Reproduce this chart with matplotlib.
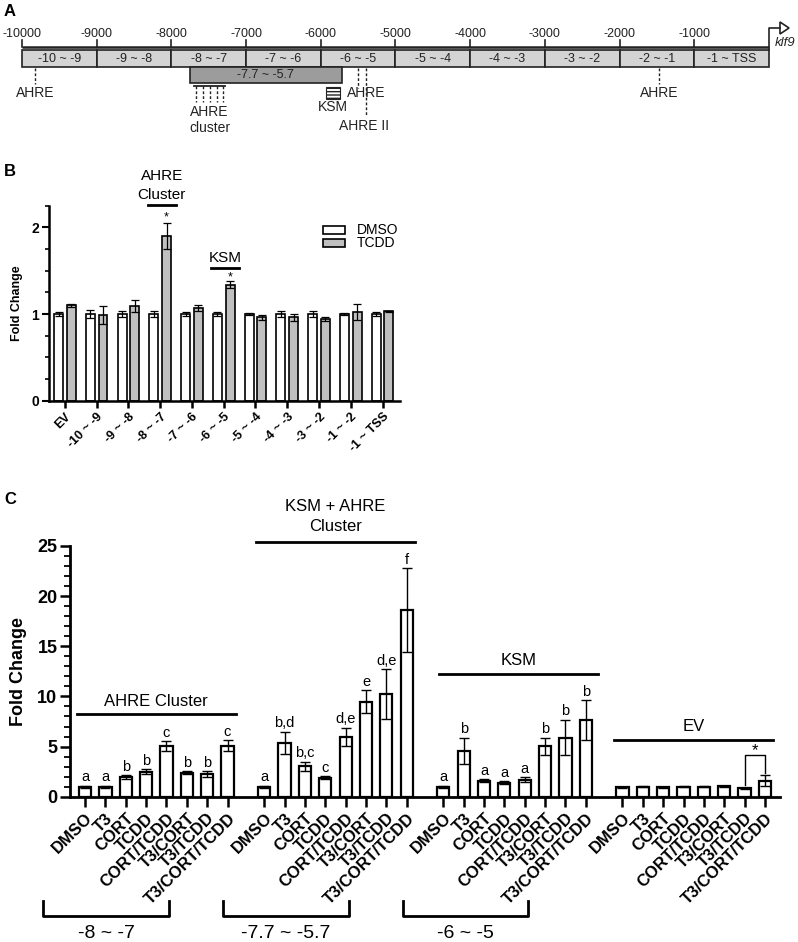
import numpy as np
import matplotlib
matplotlib.use('Agg')
import matplotlib.pyplot as plt
from matplotlib.patches import Rectangle, Polygon

plt.rcParams['font.family'] = ['Liberation Sans', 'DejaVu Sans']

W, H = 798, 942

# ---------------- data ----------------
# Panel A
a_ticks = [-10000, -9000, -8000, -7000, -6000, -5000, -4000, -3000, -2000, -1000]
a_segments = ['-10 ~ -9', '-9 ~ -8', '-8 ~ -7', '-7 ~ -6', '-6 ~ -5',
              '-5 ~ -4', '-4 ~ -3', '-3 ~ -2', '-2 ~ -1', '-1 ~ TSS']
a_big_segment = '-7.7 ~ -5.7'
a_ahre_sites = [-9826, -5502, -1473]
a_cluster_sites = [-7670, -7577, -7483, -7390, -7309]
a_ahre2_site = -5395

# Panel B
b_categories = ['EV', '-10 ~ -9', '-9 ~ -8', '-8 ~ -7', '-7 ~ -6', '-6 ~ -5',
                '-5 ~ -4', '-4 ~ -3', '-3 ~ -2', '-1 ~ -2', '-1 ~ TSS']
b_dmso = [1.0, 1.0, 1.0, 1.0, 1.0, 1.0, 1.0, 1.0, 1.0, 1.0, 1.0]
b_dmso_err = [0.02, 0.05, 0.03, 0.04, 0.02, 0.02, 0.01, 0.03, 0.03, 0.01, 0.02]
b_tcdd = [1.10, 0.99, 1.09, 1.90, 1.07, 1.34, 0.96, 0.96, 0.94, 1.02, 1.03]
b_tcdd_err = [0.02, 0.10, 0.07, 0.15, 0.03, 0.04, 0.03, 0.04, 0.02, 0.09, 0.01]

# Panel C
c_treatments = ['DMSO', 'T3', 'CORT', 'TCDD', 'CORT/TCDD', 'T3/CORT',
                'T3/TCDD', 'T3/CORT/TCDD']
c_groups = ['AHRE Cluster', 'KSM + AHRE\nCluster', 'KSM', 'EV']
c_ahre = [1.0, 1.0, 1.93, 2.49, 5.04, 2.39, 2.26, 5.10]
c_ahre_err = [0.10, 0.10, 0.20, 0.25, 0.50, 0.15, 0.30, 0.55]
c_ahre_letters = ['a', 'a', 'b', 'b', 'c', 'b', 'b', 'c']
c_ksmahre = [1.0, 5.40, 3.05, 1.90, 5.97, 9.45, 10.20, 18.60]
c_ksmahre_err = [0.10, 1.10, 0.45, 0.15, 0.90, 1.15, 2.50, 4.20]
c_ksmahre_letters = ['a', 'b,d', 'b,c', 'c', 'd,e', 'e', 'd,e', 'f']
c_ksm = [1.0, 4.58, 1.60, 1.40, 1.70, 5.05, 5.90, 7.63]
c_ksm_err = [0.10, 1.30, 0.15, 0.15, 0.25, 0.85, 1.75, 2.00]
c_ksm_letters = ['a', 'b', 'a', 'a', 'a', 'b', 'b', 'b']
c_ev = [0.95, 1.00, 0.95, 1.00, 0.98, 1.05, 0.85, 1.60]
c_ev_err = [0.05, 0.05, 0.05, 0.05, 0.05, 0.05, 0.05, 0.55]
c_ev_letters = ['', '', '', '', '', '', '', '']
c_regions = ['-8 ~ -7', '-7.7 ~ -5.7', '-6 ~ -5']

fig = plt.figure(figsize=(W / 100, H / 100), dpi=100)

# overlay axes in pixel coordinates for panel letters / brackets
ov = fig.add_axes([0, 0, 1, 1], zorder=10)
ov.set_xlim(0, W)
ov.set_ylim(H, 0)
ov.axis('off')
ov.patch.set_alpha(0)

for lab, (px, py) in zip(['A', 'B', 'C'], [(10, 11), (10, 172), (10, 500)]):
    ov.text(px, py, lab, fontsize=12, fontweight='bold', ha='center', va='center')

# ---------------- Panel A ----------------
px_per_bp = (769 - 22) / 10000.0
axA = fig.add_axes([0, 1 - 140 / H, 1, 140 / H])
axA.set_xlim(-10000 - 22 / px_per_bp, (W - 769) / px_per_bp)
axA.set_ylim(140, 0)
axA.axis('off')

axA.plot([-10000, 0], [47, 47], color='#222222', lw=1.8, solid_capstyle='butt')
for t in a_ticks:
    axA.plot([t, t], [40, 47], color='#222222', lw=1.2)
    axA.text(t, 34, str(t), fontsize=9, ha='center', va='center', color='#222222')

for i, lab in enumerate(a_segments):
    x0 = -10000 + i * 1000
    axA.add_patch(Rectangle((x0, 50), 1000, 17, facecolor='#d4d4d4',
                            edgecolor='#222222', lw=1.2))
    axA.text(x0 + 500, 58.5, lab, fontsize=9, ha='center', va='center', color='#222222')

axA.add_patch(Rectangle((-7750, 67), 2030, 16, facecolor='#9c9c9c',
                        edgecolor='#222222', lw=1.2))
axA.text((-7750 - 5720) / 2, 75, a_big_segment, fontsize=9, ha='center', va='center',
         color='#222222')

# AHRE single sites
for s in [a_ahre_sites[0], a_ahre_sites[2]]:
    axA.plot([s, s], [68, 84], color='#222222', lw=1, ls=(0, (2, 1.5)))
    axA.text(s, 93, 'AHRE', fontsize=10, ha='center', va='center', color='#222222')
axA.plot([a_ahre_sites[1]] * 2, [68, 88], color='#222222', lw=1, ls=(0, (2, 1.5)))
axA.text(-5390, 93, 'AHRE', fontsize=10, ha='center', va='center', color='#222222')
axA.plot([a_ahre2_site] * 2, [68, 116], color='#222222', lw=1, ls=(0, (2, 1.5)))
axA.text(a_ahre2_site - 30, 126, 'AHRE II', fontsize=10, ha='center', va='center',
         color='#222222')

# AHRE cluster
axA.plot([-7697, -7282], [86, 86], color='#222222', lw=1.3)
for s in a_cluster_sites:
    axA.plot([s, s], [86, 102], color='#222222', lw=1, ls=(0, (2, 1.5)))
axA.text(-7490, 112, 'AHRE', fontsize=10, ha='center', va='center', color='#222222')
axA.text(-7490, 128, 'cluster', fontsize=10, ha='center', va='center', color='#222222')

# KSM
axA.add_patch(Rectangle((-5930, 87), 187, 12, facecolor='white',
                        edgecolor='#222222', lw=0.8, hatch='-----'))
axA.text(-5836, 107, 'KSM', fontsize=10, ha='center', va='center', color='#222222')

# TSS arrow
axA.plot([0, 0, 150], [50, 28, 28], color='#222222', lw=1.2)
tri = Polygon([[147, 22], [147, 34], [268, 28]], closed=True,
              facecolor='white', edgecolor='#222222', lw=1.2)
axA.add_patch(tri)
axA.text(214, 43, 'klf9', fontsize=9.5, style='italic', ha='center', va='center',
         color='#222222')

# ---------------- Panel B ----------------
axB = fig.add_axes([49 / W, 1 - 400.7 / H, (400 - 49) / W, (400.7 - 205.7) / H])
xb = np.arange(len(b_categories))
bw = 0.28
axB.bar(xb - 0.2, b_dmso, bw, color='white', edgecolor='black', lw=1.2, zorder=2,
        label='DMSO')
axB.bar(xb + 0.2, b_tcdd, bw, color='#c0c0c0', edgecolor='black', lw=1.2, zorder=2,
        label='TCDD')
axB.errorbar(xb - 0.2, b_dmso, yerr=b_dmso_err, fmt='none', ecolor='black',
             elinewidth=0.9, capsize=3, capthick=0.9, zorder=3)
axB.errorbar(xb + 0.2, b_tcdd, yerr=b_tcdd_err, fmt='none', ecolor='black',
             elinewidth=0.9, capsize=3, capthick=0.9, zorder=3)
axB.set_xlim(-0.5, 10.55)
axB.set_ylim(0, 2.25)
axB.set_yticks([0, 1, 2])
axB.set_yticks(np.arange(0, 2.26, 0.25), minor=True)
axB.set_xticks(xb)
axB.set_xticklabels(b_categories, rotation=45, ha='right', va='top',
                    rotation_mode='anchor', fontsize=9, fontweight='bold')
for lab in axB.get_yticklabels():
    lab.set_fontweight('bold')
    lab.set_fontsize(10)
axB.spines['top'].set_visible(False)
axB.spines['right'].set_visible(False)
axB.spines['left'].set_linewidth(1.8)
axB.spines['bottom'].set_linewidth(1.8)
axB.tick_params(axis='x', length=5, width=1.8, pad=2)
axB.tick_params(axis='y', which='major', length=5, width=1.5, pad=2)
axB.tick_params(axis='y', which='minor', length=3, width=1.2)
fig.text(17 / W, 1 - 303 / H, 'Fold Change', rotation=90, fontsize=9,
         fontweight='bold', ha='center', va='center')

# annotations B
axB.text(3.05, 2.59, 'AHRE', fontsize=11, ha='center', va='center', clip_on=False)
axB.text(3.05, 2.37, 'Cluster', fontsize=11, ha='center', va='center', clip_on=False)
axB.plot([2.61, 3.49], [2.255, 2.255], color='black', lw=2, clip_on=False)
axB.text(3.2, 2.12, '*', fontsize=9, ha='center', va='center')
axB.text(5.05, 1.65, 'KSM', fontsize=11, ha='center', va='center')
axB.plot([4.6, 5.47], [1.53, 1.53], color='black', lw=2)
axB.text(5.2, 1.42, '*', fontsize=9, ha='center', va='center')

# legend B (manual)
axB.add_patch(Rectangle((0.781, 0.855), 0.062, 0.041, transform=axB.transAxes,
                        facecolor='white', edgecolor='black', lw=1.2, clip_on=False))
axB.add_patch(Rectangle((0.781, 0.788), 0.062, 0.041, transform=axB.transAxes,
                        facecolor='#c0c0c0', edgecolor='black', lw=1.2, clip_on=False))
axB.text(0.877, 0.875, 'DMSO', transform=axB.transAxes, fontsize=10, va='center')
axB.text(0.877, 0.809, 'TCDD', transform=axB.transAxes, fontsize=10, va='center')

# ---------------- Panel C ----------------
axC = fig.add_axes([70 / W, 1 - 796.7 / H, 710 / W, (796.7 - 546) / H])
group_vals = [c_ahre, c_ksmahre, c_ksm, c_ev]
group_errs = [c_ahre_err, c_ksmahre_err, c_ksm_err, c_ev_err]
group_lets = [c_ahre_letters, c_ksmahre_letters, c_ksm_letters, c_ev_letters]
gstep = 8.8
all_x, all_labels = [], []
for g in range(4):
    xs = g * gstep + np.arange(len(c_treatments))
    axC.bar(xs, group_vals[g], 0.6, color='white', edgecolor='black', lw=1.6, zorder=2)
    axC.errorbar(xs, group_vals[g], yerr=group_errs[g], fmt='none', ecolor='black',
                 elinewidth=1, capsize=3.5, capthick=1, zorder=3)
    for x, v, e, l in zip(xs, group_vals[g], group_errs[g], group_lets[g]):
        if l:
            axC.text(x, v + e + 0.15, l, fontsize=10.5, ha='center', va='bottom')
    all_x.extend(xs)
    all_labels.extend(c_treatments)

axC.set_xlim(-0.74, 3 * gstep + 7 + 0.74)
axC.set_ylim(0, 25)
axC.set_yticks([0, 5, 10, 15, 20, 25])
axC.set_yticks(np.arange(0, 26, 1), minor=True)
axC.set_xticks(all_x)
axC.set_xticklabels(all_labels, rotation=45, ha='right', va='top',
                    rotation_mode='anchor', fontsize=12, fontweight='bold')
for lab in axC.get_yticklabels():
    lab.set_fontweight('bold')
    lab.set_fontsize(13)
axC.spines['top'].set_visible(False)
axC.spines['right'].set_visible(False)
axC.spines['left'].set_linewidth(2)
axC.spines['bottom'].set_linewidth(2)
axC.tick_params(axis='x', length=7, width=1.8, pad=3)
axC.tick_params(axis='y', which='major', length=7, width=1.8, pad=2)
axC.tick_params(axis='y', which='minor', length=4, width=1.3)
fig.text(19 / W, 1 - 671 / H, 'Fold Change', rotation=90, fontsize=13,
         fontweight='bold', ha='center', va='center')

# group headers
axC.plot([-0.4, 7.4], [8.2, 8.2], color='black', lw=2)
axC.text(3.5, 9.45, c_groups[0], fontsize=12, ha='center', va='center')
axC.plot([8.4, 16.2], [25.4, 25.4], color='black', lw=2, clip_on=False)
axC.text(12.3, 28.9, 'KSM + AHRE', fontsize=12, ha='center', va='center', clip_on=False)
axC.text(12.3, 26.9, 'Cluster', fontsize=12, ha='center', va='center', clip_on=False)
axC.plot([17.4, 25.2], [12.2, 12.2], color='black', lw=2)
axC.text(21.3, 13.6, c_groups[2], fontsize=12, ha='center', va='center')
axC.plot([26.0, 33.8], [5.64, 5.64], color='black', lw=2)
axC.text(29.9, 7.0, c_groups[3], fontsize=12, ha='center', va='center')

# significance bracket EV
xa = 3 * gstep + 6
xb2 = 3 * gstep + 7
axC.plot([xa, xa, xb2, xb2], [1.2, 4.15, 4.15, 2.35], color='black', lw=1)
axC.text((xa + xb2) / 2, 4.55, '*', fontsize=12, ha='center', va='center')

# region brackets (pixel coordinates)
for lab, (x0, x1) in zip(c_regions, [(43, 169), (223, 349), (403, 528)]):
    ov.plot([x0, x0, x1, x1], [901, 916, 916, 901], color='black', lw=2)
    ov.text((x0 + x1) / 2, 933, lab, fontsize=14, ha='center', va='center')

fig.savefig('out.png', dpi=100)
